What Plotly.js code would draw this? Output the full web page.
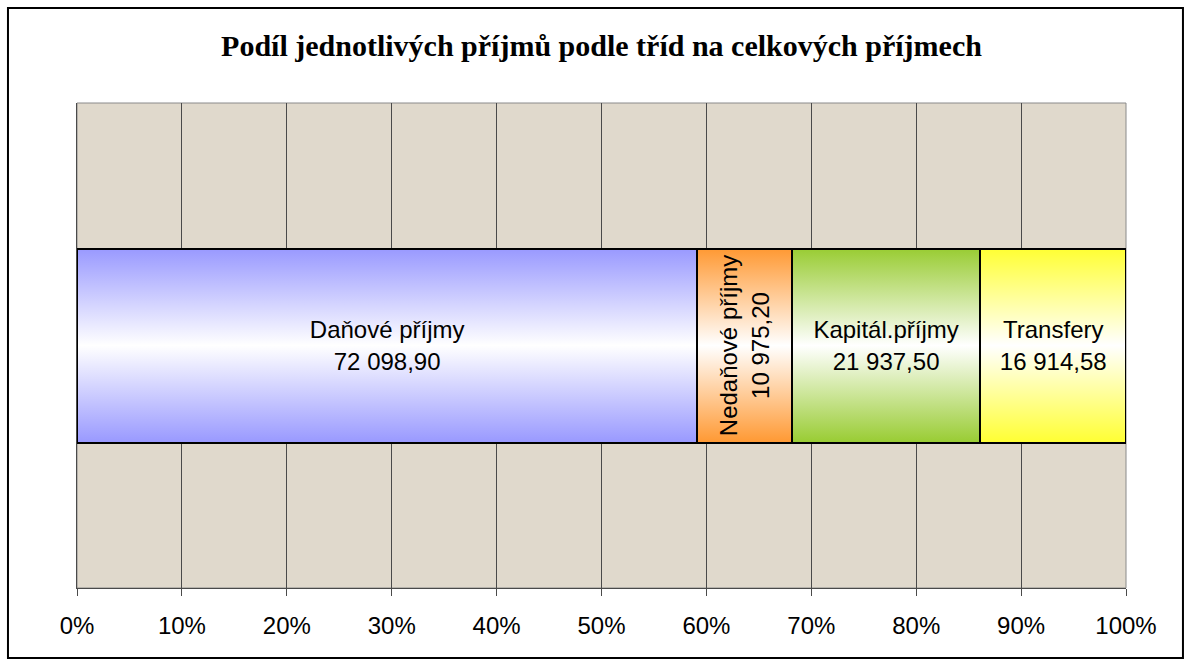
<!DOCTYPE html>
<html>
<head>
<meta charset="utf-8">
<script src="https://cdn.plot.ly/plotly-3.0.1.min.js"></script>
<style>
html,body{margin:0;padding:0;background:#fff;}
#chart{width:1191px;height:666px;}
</style>
</head>
<body>
<div id="chart"></div>
<script>
// ---- data ----
const categories = ['Daňové příjmy', 'Nedaňové příjmy', 'Kapitál.příjmy', 'Transfery'];
const values = [72098.90, 10975.20, 21937.50, 16914.58];
const rowLabel = ['příjmy'];
const tickValues = [0, 10, 20, 30, 40, 50, 60, 70, 80, 90, 100];
const tickLabels = ['0%', '10%', '20%', '30%', '40%', '50%', '60%', '70%', '80%', '90%', '100%'];
const chartTitle = 'Podíl jednotlivých příjmů podle tříd na celkových příjmech';

// ---- styles ----
const edgeColors = ['#9999ff', '#ff9933', '#99cc33', '#ffff33'];
const textAngles = [0, -90, 0, 0];

const traces = categories.map((name, i) => ({
  type: 'bar',
  orientation: 'h',
  name: name,
  y: rowLabel,
  x: [values[i]],
  customdata: [values[i]],
  width: 0.4,
  marker: {color: edgeColors[i], line: {color: '#000000', width: 2}},
  texttemplate: name + '<br>%{customdata:,.2f}',
  textposition: 'inside',
  insidetextanchor: 'middle',
  constraintext: 'none',
  textangle: textAngles[i],
  insidetextfont: {family: 'Liberation Sans, Arial, sans-serif', size: 24, color: '#000000'},
  hoverinfo: 'skip'
}));

const layout = {
  width: 1191,
  height: 666,
  margin: {l: 77, r: 65, t: 103, b: 78},
  paper_bgcolor: '#ffffff',
  plot_bgcolor: '#e0d9cc',
  separators: ', ',
  barmode: 'stack',
  barnorm: 'percent',
  showlegend: false,
  title: {
    text: '<b>' + chartTitle + '</b>',
    font: {family: 'Liberation Serif, Times New Roman, serif', size: 30, color: '#000000'},
    x: 0.5, xanchor: 'center', xref: 'paper',
    y: 0.931, yref: 'container', yanchor: 'middle'
  },
  xaxis: {
    range: [0, 100],
    tickvals: tickValues,
    ticktext: tickLabels,
    showgrid: true,
    gridcolor: '#4a4a4a',
    gridwidth: 1,
    zeroline: false,
    showline: true,
    linecolor: '#4a4a4a',
    linewidth: 1,
    ticks: 'outside',
    ticklen: 7,
    tickcolor: '#4a4a4a',
    ticklabelstandoff: 9,
    tickfont: {family: 'Liberation Sans, Arial, sans-serif', size: 24, color: '#000000'},
    fixedrange: true
  },
  yaxis: {
    range: [-0.5, 0.5],
    showticklabels: false,
    showgrid: false,
    zeroline: false,
    showline: true,
    linecolor: '#4a4a4a',
    linewidth: 1,
    ticks: '',
    fixedrange: true
  },
  shapes: [
    {type: 'rect', xref: 'paper', yref: 'paper', x0: 0, x1: 1, y0: 0, y1: 1,
     line: {color: '#8a8a8a', width: 1}, fillcolor: 'rgba(0,0,0,0)', layer: 'below'},
    {type: 'rect', xref: 'paper', yref: 'paper', x0: -0.0658, x1: 1.0543, y0: -0.1443, y1: 1.1959,
     line: {color: '#000000', width: 2}, fillcolor: 'rgba(0,0,0,0)'}
  ]
};

Plotly.newPlot('chart', traces, layout, {staticPlot: true, displayModeBar: false}).then(gd => {
  // vertical gradient fill (colour - white - colour) for each bar segment
  const svg = gd.querySelector('svg.main-svg');
  const ns = 'http://www.w3.org/2000/svg';
  let defs = svg.querySelector('defs');
  if (!defs) { defs = document.createElementNS(ns, 'defs'); svg.insertBefore(defs, svg.firstChild); }
  edgeColors.forEach((c, i) => {
    const g = document.createElementNS(ns, 'linearGradient');
    g.setAttribute('id', 'barGrad' + i);
    g.setAttribute('x1', '0'); g.setAttribute('y1', '0');
    g.setAttribute('x2', '0'); g.setAttribute('y2', '1');
    [[0, c], [0.5, '#ffffff'], [1, c]].forEach(([o, col]) => {
      const s = document.createElementNS(ns, 'stop');
      s.setAttribute('offset', o);
      s.setAttribute('stop-color', col);
      g.appendChild(s);
    });
    defs.appendChild(g);
  });
  gd.querySelectorAll('.barlayer .trace').forEach((t, i) => {
    t.querySelectorAll('.point path').forEach(p => { p.style.fill = 'url(#barGrad' + i + ')'; });
  });
});
</script>
</body>
</html>
